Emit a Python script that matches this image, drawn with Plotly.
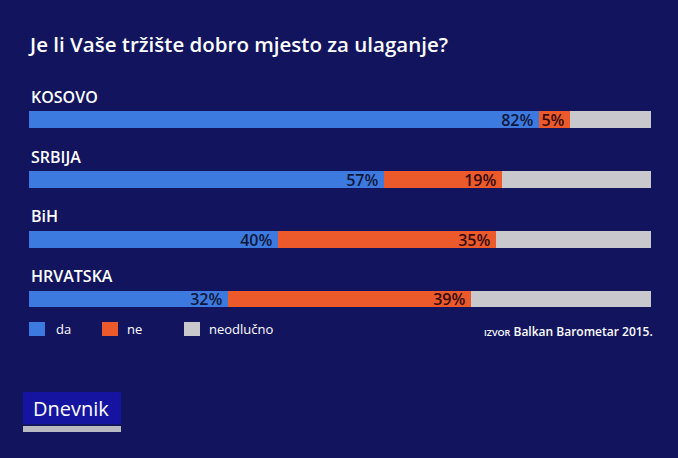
import plotly.graph_objects as go

# ---- data ----
title = "Je li Vaše tržište dobro mjesto za ulaganje?"
countries = ["KOSOVO", "SRBIJA", "BiH", "HRVATSKA"]
da = [82, 57, 40, 32]
ne = [5, 19, 35, 39]
neodlucno = [100 - a - b for a, b in zip(da, ne)]
series_names = ["da", "ne", "neodlučno"]
source_text = "<span style='font-size:9px'>IZVOR</span> Balkan Barometar 2015."
logo_text = "Dnevnik"

# ---- style ----
W, H = 678, 458
BG = "#12155e"
C_DA = "#3d7ae0"
C_NE = "#ec5a2c"
C_NEO = "#c9c9cd"
FONT = "Open Sans, Noto Sans, DejaVu Sans, sans-serif"

X0, X1 = 29, 651          # bar pixel extent (0..100 %)
c0, step = 120.0, 59.7    # first bar centre, spacing (px)
ytop = c0 - 0.5 * step
ybot = c0 + 3.5 * step

def px(x):
    return x / W

def py(y):
    return 1 - y / H

fig = go.Figure()
fig.add_trace(go.Bar(
    y=countries, x=da, orientation="h", name=series_names[0],
    marker=dict(color=C_DA, line=dict(width=0)),
    text=[f"{v}%\u2009" for v in da], textposition="inside", insidetextanchor="end",
    textfont=dict(color="#10163a", size=16, family=FONT, weight=600),
    width=0.28,
))
fig.add_trace(go.Bar(
    y=countries, x=ne, orientation="h", name=series_names[1],
    marker=dict(color=C_NE, line=dict(width=0)),
    text=[f"{v}%\u2009" for v in ne], textposition="inside", insidetextanchor="end",
    textfont=dict(color="#340a0a", size=16, family=FONT, weight=600),
    width=0.28,
))
fig.add_trace(go.Bar(
    y=countries, x=neodlucno, orientation="h", name=series_names[2],
    marker=dict(color=C_NEO, line=dict(width=0)),
    width=0.28, hoverinfo="x+name",
))

annotations = []
# title
annotations.append(dict(text=title, x=px(26), y=py(44), xref="paper", yref="paper",
                        xanchor="left", yanchor="middle", showarrow=False,
                        font=dict(color="white", size=20.5, family=FONT, weight=600)))
# country labels
for c in countries:
    annotations.append(dict(text=c, x=px(29), y=c, xref="paper", yref="y",
                            xanchor="left", yanchor="middle", yshift=23, showarrow=False,
                            font=dict(color="white", size=16, family=FONT, weight=600)))

shapes = []
# legend
leg = [(29, 56, C_DA), (102, 127, C_NE), (184, 209, C_NEO)]
for (sx, tx, col), name in zip(leg, series_names):
    shapes.append(dict(type="rect", xref="paper", yref="paper",
                       x0=px(sx), x1=px(sx + 16), y0=py(336), y1=py(322),
                       fillcolor=col, line=dict(width=0)))
    annotations.append(dict(text=name, x=px(tx - 2), y=py(329), xref="paper", yref="paper",
                            xanchor="left", yanchor="middle", showarrow=False,
                            font=dict(color="white", size=13, family=FONT)))
# source
annotations.append(dict(text=source_text, x=px(655), y=py(331), xref="paper", yref="paper",
                        xanchor="right", yanchor="middle", showarrow=False,
                        font=dict(color="white", size=12, family=FONT, weight=600)))
# logo
shapes.append(dict(type="rect", xref="paper", yref="paper",
                   x0=px(23), x1=px(121), y0=py(424), y1=py(392),
                   fillcolor="#1414a0", line=dict(width=0)))
shapes.append(dict(type="rect", xref="paper", yref="paper",
                   x0=px(23), x1=px(121), y0=py(432), y1=py(426),
                   fillcolor="#b9b9c2", line=dict(width=0)))
annotations.append(dict(text=logo_text, x=px(31), y=py(408), xref="paper", yref="paper",
                        xanchor="left", yanchor="middle", showarrow=False,
                        font=dict(color="white", size=20, family=FONT)))

fig.update_layout(
    width=W, height=H, margin=dict(l=0, r=0, t=0, b=0, pad=0),
    paper_bgcolor=BG, plot_bgcolor=BG,
    barmode="stack", showlegend=False, bargap=0,
    xaxis=dict(range=[0, 100], domain=[px(X0), px(X1)], visible=False, fixedrange=True),
    yaxis=dict(type="category", categoryorder="array", categoryarray=countries,
               range=[3.5, -0.5], domain=[py(ybot), py(ytop)], visible=False, fixedrange=True),
    uniformtext=dict(mode="show", minsize=10),
    annotations=annotations, shapes=shapes,
    font=dict(family=FONT, color="white"),
)

fig.write_html("out.html", config={"displayModeBar": False})
